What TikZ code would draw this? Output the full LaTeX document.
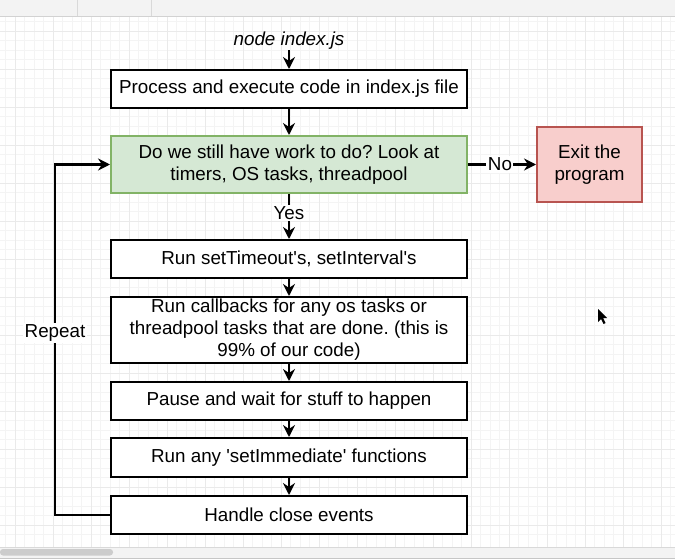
\documentclass[tikz,border=0pt]{standalone}
\usepackage{fontspec}
\setmainfont{Liberation Sans}
\usetikzlibrary{arrows.meta}
\frenchspacing
\definecolor{greenfill}{HTML}{D5E8D4}
\definecolor{greenline}{HTML}{82B366}
\definecolor{redfill}{HTML}{F8CECC}
\definecolor{redline}{HTML}{B85450}
\definecolor{gridmajor}{HTML}{EAEAEA}
\definecolor{gridminor}{HTML}{F4F4F4}
\definecolor{barfill}{HTML}{F3F3F3}
\definecolor{thumb}{HTML}{CCCCCC}
\tikzset{
  box/.style={draw=black, line width=2pt, minimum width=356pt, inner sep=0pt,
    font=\fontsize{18.8}{22}\selectfont, align=center, fill=white},
  flow/.style={line width=2.2pt, -{Stealth[length=12pt,width=12pt,inset=4pt]}},
  lbl/.style={fill=white, inner sep=1.5pt, font=\fontsize{18.8}{22}\selectfont},
}
\begin{document}
\begin{tikzpicture}[x=1pt,y=-1pt]
\useasboundingbox (0,0) rectangle (675,559);
% grid background
\foreach \i in {0,...,71} {\draw[gridminor, line width=0.4pt] (5.5+\i*9.5,16) -- (5.5+\i*9.5,547);}
\foreach \i in {0,...,56} {\draw[gridminor, line width=0.4pt] (0,2.5+\i*9.5) -- (675,2.5+\i*9.5);}
\foreach \i in {0,...,17} {\draw[gridmajor, line width=0.7pt] (15+\i*38,16) -- (15+\i*38,547);}
\foreach \i in {0,...,14} {\draw[gridmajor, line width=0.7pt] (0,-7+\i*38) -- (675,-7+\i*38);}
% toolbar
\fill[barfill] (0,0) rectangle (675,16);
\draw[gray!35, line width=0.6pt] (0,16) -- (675,16);
\draw[gray!30, line width=0.6pt] (77,0) -- (77,16) (151,0) -- (151,16);
% scrollbar
\fill[barfill] (0,547) rectangle (675,559);
\draw[gray!30, line width=0.6pt] (0,547) -- (675,547);
\fill[thumb, rounded corners=3pt] (0,549) rectangle (113,555.5);
\draw[gray!45, line width=0.8pt] (0,558.5) -- (675,558.5);
% cursor
\fill[black] (598,309) -- (598,322) -- (601,319) -- (603.5,324) -- (605.5,323) -- (603,318) -- (607,318) -- cycle;

% nodes
\node[font=\fontsize{18.8}{22}\selectfont\itshape, inner sep=1pt] (start) at (289,40.5) {node index.js};
\node[box, minimum height=38pt] (proc) at (289,89) {Process and execute code in index.js file};
\node[box, draw=greenline, fill=greenfill, minimum height=57pt] (check) at (289,164.5)
  {Do we still have work to do? Look at\\timers, OS tasks, threadpool};
\node[box, draw=redline, fill=redfill, minimum width=105pt, minimum height=75pt] (exit) at (589.5,164.5)
  {Exit the\\program};
\node[box, minimum height=38pt] (timers) at (289,259) {Run setTimeout\textquotesingle s, setInterval\textquotesingle s};
\node[box, minimum height=66pt] (callbacks) at (289,330)
  {Run callbacks for any os tasks or\\threadpool tasks that are done. (this is\\99\% of our code)};
\node[box, minimum height=38pt] (pause) at (289,401) {Pause and wait for stuff to happen};
\node[box, minimum height=39pt] (immediate) at (289,457.5) {Run any \textquotesingle setImmediate\textquotesingle{} functions};
\node[box, minimum height=38pt] (close) at (289,515) {Handle close events};
\coordinate (loopbot) at (55,515);
\coordinate (looptop) at (55,164.5);

% connectors
\draw[flow] (start) -- (proc);
\draw[flow] (proc) -- (check);
\draw[flow] (check) -- node[lbl, pos=0.42] {Yes} (timers);
\draw[flow] (check) -- node[lbl, pos=0.47] {No} (exit);
\draw[flow] (timers) -- (callbacks);
\draw[flow] (callbacks) -- (pause);
\draw[flow] (pause) -- (immediate);
\draw[flow] (immediate) -- (close);
\draw[flow] (close.west) -- (loopbot) -- node[lbl, pos=0.52] {Repeat} (looptop) -- (check.west);
\end{tikzpicture}
\end{document}
